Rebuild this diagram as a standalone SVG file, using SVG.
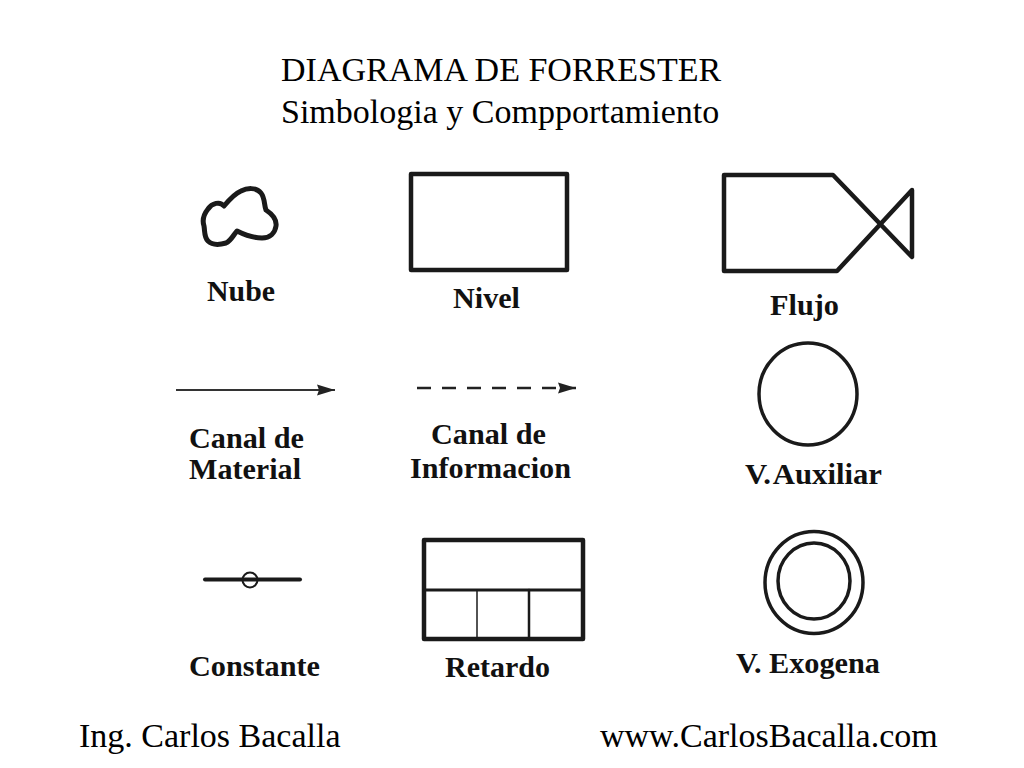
<svg xmlns="http://www.w3.org/2000/svg" width="1024" height="768" viewBox="0 0 1024 768">
<defs>
<style>
.t{font-family:"Liberation Serif","Times New Roman",serif;font-size:34px;fill:#000}
.l{font-family:"Liberation Serif","Times New Roman",serif;font-size:30px;font-weight:bold;fill:#111}
.s{fill:none;stroke:#1a1a1a;stroke-linejoin:round;stroke-linecap:round}
</style>
<marker id="ah" markerUnits="userSpaceOnUse" markerWidth="20" markerHeight="12" refX="18" refY="6" orient="auto"><path d="M0 0.500L18 6L0 11.500L2 6Z" fill="#222"/></marker>
</defs>
<rect width="1024" height="768" fill="#fff"/>
<g id="titulo">
<text class="t" x="281" y="81">DIAGRAMA DE FORRESTER</text>
<text class="t" x="281" y="123">Simbologia y Compportamiento</text>
</g>
<g id="nube">
<path class="s" stroke-width="5" d="M224 206C229 200 234 194 241 191C247 188 256 187 261 193C265 198 264 205 266 210C272 214 277 219 276 226C275 233 270 238 262 238C253 238 245 235 237 231C234 234 231 241 226 243C219 245 212 245 208 241C204 237 205 232 204 226C202 220 204 214 208 209C212 203 220 201 224 206Z"/>
<text class="l" x="207" y="301" textLength="68" lengthAdjust="spacingAndGlyphs">Nube</text>
</g>
<g id="nivel">
<rect class="s" x="411" y="174" width="156" height="96" stroke-width="4.500"/>
<text class="l" x="453" y="308" textLength="67" lengthAdjust="spacingAndGlyphs">Nivel</text>
</g>
<g id="flujo">
<path class="s" stroke-width="4.500" d="M724 175H833L912 257V190L837 271H724Z"/>
<text class="l" x="770" y="315" textLength="69" lengthAdjust="spacingAndGlyphs">Flujo</text>
</g>
<g id="canal-material">
<text class="l" x="189" y="448" textLength="115" lengthAdjust="spacingAndGlyphs">Canal de</text>
<text class="l" x="189" y="479" textLength="112" lengthAdjust="spacingAndGlyphs">Material</text>
</g>
<g id="canal-informacion">
<text class="l" x="431" y="444" textLength="115" lengthAdjust="spacingAndGlyphs">Canal de</text>
<text class="l" x="410" y="478" textLength="161" lengthAdjust="spacingAndGlyphs">Informacion</text>
</g>
<g id="v-auxiliar">
<ellipse class="s" cx="808" cy="394" rx="49" ry="51" stroke-width="3.500"/>
<text class="l" x="745" y="484" textLength="137" lengthAdjust="spacingAndGlyphs" word-spacing="-4">V. Auxiliar</text>
</g>
<g id="constante">
<path class="s" stroke-width="4" d="M205 579.500H300"/>
<circle class="s" cx="250" cy="580" r="7.500" stroke-width="2"/>
<text class="l" x="189" y="676" textLength="131" lengthAdjust="spacingAndGlyphs">Constante</text>
</g>
<g id="retardo">
<rect class="s" x="424" y="540" width="159" height="99" stroke-width="4.500"/>
<path class="s" stroke-width="3" d="M424 590H583"/>
<path class="s" stroke-width="1.500" d="M477 590V639"/>
<path class="s" stroke-width="2.500" d="M529 590V639"/>
<text class="l" x="445" y="677" textLength="105" lengthAdjust="spacingAndGlyphs">Retardo</text>
</g>
<g id="v-exogena">
<ellipse class="s" cx="814" cy="582.500" rx="49" ry="51" stroke-width="3.500"/>
<ellipse class="s" cx="814" cy="581" rx="36" ry="38" stroke-width="3.500"/>
<text class="l" x="736" y="673" textLength="144" lengthAdjust="spacingAndGlyphs">V. Exogena</text>
</g>
<g id="pie">
<text class="t" x="79" y="747">Ing. Carlos Bacalla</text>
<text class="t" x="600" y="747">www.CarlosBacalla.com</text>
</g>
<g id="conectores">
<path d="M176 390H335" fill="none" stroke="#333" stroke-width="1.800" marker-end="url(#ah)"/>
<path d="M417 388H576" fill="none" stroke="#222" stroke-width="2.500" stroke-dasharray="14 11" marker-end="url(#ah)"/>
</g>
</svg>
